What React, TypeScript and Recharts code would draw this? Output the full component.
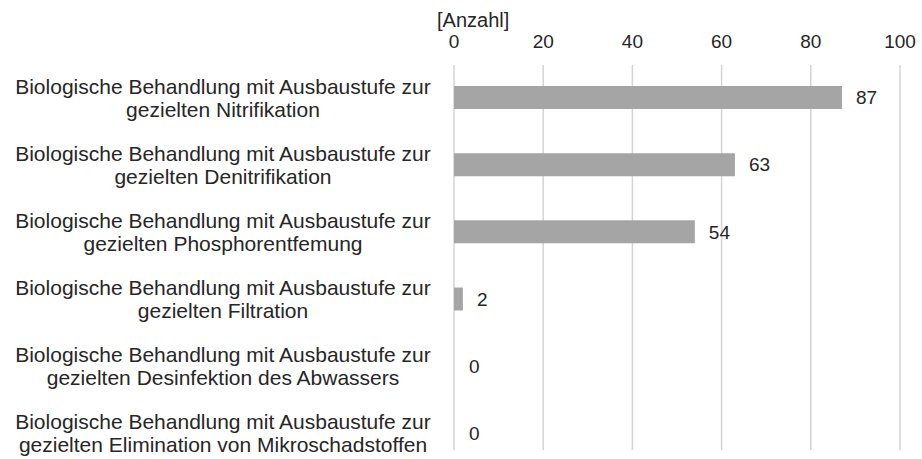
import { BarChart, Bar, XAxis, YAxis, CartesianGrid, LabelList, Cell } from 'recharts';

// Kategorien (zweizeilige Beschriftungen)
const line1 = 'Biologische Behandlung mit Ausbaustufe zur';
const line2 = [
  'gezielten Nitrifikation',
  'gezielten Denitrifikation',
  'gezielten Phosphorentfemung',
  'gezielten Filtration',
  'gezielten Desinfektion des Abwassers',
  'gezielten Elimination von Mikroschadstoffen',
];
const counts = [87, 63, 54, 2, 0, 0];
const xTicks = [0, 20, 40, 60, 80, 100];

const data = line2.map((l, i) => ({ name: `${line1}|${l}`, value: counts[i] }));

const FONT = '"Liberation Sans", Arial, sans-serif';
const TEXT = '#262626';
const BAR = '#a5a5a5';

const CategoryTick = (props: any) => {
  const { y, payload } = props;
  const [a, b] = String(payload.value).split('|');
  return (
    <text x={223} y={y} textAnchor="middle" fontSize={21} fill={TEXT} fontFamily={FONT}>
      <tspan x={223} y={y - 11.5} dominantBaseline="central">{a}</tspan>
      <tspan x={223} y={y + 11.5} dominantBaseline="central">{b}</tspan>
    </text>
  );
};

const App = () => {
  return (
    <div
      style={{
        position: 'absolute', left: 0, top: 0, width: 922, height: 459,
        overflow: 'hidden', background: '#fff', fontFamily: FONT,
      }}
    >
      <div style={{ position: 'absolute', left: 437, top: 9, fontSize: 20, lineHeight: '22px', color: TEXT }}>
        [Anzahl]
      </div>
      <BarChart
        width={922}
        height={467}
        data={data}
        layout="vertical"
        margin={{ top: 0, right: 22, bottom: 0, left: 0 }}
        barCategoryGap={0}
      >
        <CartesianGrid
          horizontal={false}
          stroke="#d4d4d4"
          strokeWidth={1.5}
          y={65}
          height={385}
        />
        <XAxis
          type="number"
          orientation="top"
          domain={[0, 100]}
          ticks={xTicks}
          axisLine={false}
          tickLine={false}
          tickSize={6}
          tickMargin={10}
          height={64}
          tick={{ fontSize: 19, fill: TEXT, fontFamily: FONT }}
          interval={0}
        />
        <YAxis
          type="category"
          dataKey="name"
          width={454}
          axisLine={false}
          tickLine={false}
          tick={<CategoryTick />}
          interval={0}
        />
        <Bar dataKey="value" fill={BAR} barSize={23} minPointSize={1} isAnimationActive={false}>
          {data.map((d, i) => (
            <Cell key={i} fill={d.value === 0 ? 'transparent' : BAR} />
          ))}
          <LabelList
            dataKey="value"
            position="right"
            offset={14}
            fill={TEXT}
            fontSize={19}
            fontFamily={FONT}
          />
        </Bar>
      </BarChart>
    </div>
  );
};

export default App;
